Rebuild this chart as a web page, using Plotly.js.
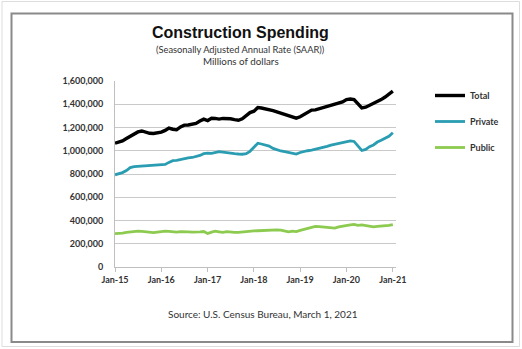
<!DOCTYPE html>
<html>
<head>
<meta charset="utf-8">
<script src="https://cdn.plot.ly/plotly-3.0.1.min.js"></script>
<style>
  html, body { margin: 0; padding: 0; background: #ffffff; }
  #chart { width: 522px; height: 349px; }
</style>
</head>
<body>
<div id="chart"></div>
<script>
// ---- Data (millions of dollars, SAAR), monthly Jan-2015 .. Jan-2021 ----
var startYear = 2015;
var totalSpending = [
  1065, 1072, 1085, 1105, 1125, 1150, 1162, 1170, 1160, 1150, 1148, 1152,
  1160, 1175, 1195, 1185, 1180, 1205, 1220, 1222, 1225, 1235, 1255, 1272,
  1260, 1280, 1278, 1272, 1278, 1280, 1275, 1268, 1262, 1275, 1300, 1328,
  1340, 1371, 1368, 1362, 1358, 1345, 1335, 1325, 1310, 1300, 1290, 1280,
  1292, 1310, 1330, 1350, 1352, 1362, 1365, 1375, 1390, 1395, 1405, 1420,
  1440, 1445, 1440, 1405, 1368, 1375, 1390, 1405, 1418, 1440, 1462, 1485,
  1512
].map(function (v) { return v * 1000; });
var privateSpending = [
  793, 800, 812, 830, 855, 864, 866, 868, 868, 870, 875, 878,
  880, 882, 900, 915, 918, 925, 935, 938, 942, 948, 960, 975,
  980, 978, 985, 992, 988, 982, 978, 975, 972, 970, 975, 995,
  1030, 1065, 1058, 1052, 1040, 1020, 1008, 998, 992, 985, 975, 972,
  985, 995, 1000, 1005, 1012, 1020, 1025, 1038, 1048, 1055, 1065, 1072,
  1080, 1085, 1080, 1040, 1002, 1012, 1035, 1050, 1075, 1090, 1110, 1125,
  1155
].map(function (v) { return v * 1000; });
var publicSpending = [
  287, 288, 292, 297, 302, 306, 308, 306, 302, 298, 296, 300,
  305, 308, 306, 302, 300, 304, 306, 302, 300, 299, 302, 305,
  288, 300, 308, 303, 298, 304, 298, 297, 298, 302, 305, 310,
  310, 312, 314, 318, 320, 318, 320, 318, 308, 302, 308, 305,
  315, 325, 335, 345, 350, 348, 345, 345, 342, 335, 345, 352,
  360, 362, 366, 358, 362, 355, 348, 345, 350, 352, 355, 358,
  365
].map(function (v) { return v * 1000; });

var seriesNames = ["Total", "Private", "Public"];
var tickDates = ["2015-01-01", "2016-01-01", "2017-01-01", "2018-01-01", "2019-01-01", "2020-01-01", "2021-01-01"];
var tickLabels = ["Jan-15", "Jan-16", "Jan-17", "Jan-18", "Jan-19", "Jan-20", "Jan-21"];

// month categories (dates)
var months = [];
for (var i = 0; i < totalSpending.length; i++) {
  var y = startYear + Math.floor(i / 12);
  var m = (i % 12) + 1;
  months.push(y + "-" + (m < 10 ? "0" + m : m) + "-01");
}

// ---- geometry helpers (pixel -> paper) ----
var L = 115, R = 396, T = 81, B = 267, W = 522, H = 349;
function px(x) { return (x - L) / (R - L); }
function py(y) { return (B - y) / (B - T); }

var FONT = "Lato, 'Liberation Sans', Arial, sans-serif";
var TFONT = "'Liberation Sans', Arial, sans-serif";

var traces = [
  { x: months, y: totalSpending, name: seriesNames[0], type: "scatter", mode: "lines",
    line: { color: "#000000", width: 3.4 }, legendgroup: "a" },
  { x: months, y: privateSpending, name: seriesNames[1], type: "scatter", mode: "lines",
    line: { color: "#2a9db2", width: 2.8 }, legendgroup: "b" },
  { x: months, y: publicSpending, name: seriesNames[2], type: "scatter", mode: "lines",
    line: { color: "#8ccb4f", width: 2.8 }, legendgroup: "c" }
];

var layout = {
  width: W, height: H,
  margin: { l: L, r: W - R, t: T, b: H - B, pad: 0 },
  paper_bgcolor: "#ffffff",
  plot_bgcolor: "#ffffff",
  font: { family: FONT, color: "#333333" },
  xaxis: {
    type: "date",
    range: ["2015-01-01", "2021-01-26"],
    tickvals: tickDates,
    ticktext: tickLabels,
    ticks: "outside", ticklen: 4, tickcolor: "#bfbfbf", tickwidth: 1,
    showgrid: false,
    showline: true, linecolor: "#bfbfbf", linewidth: 1,
    tickfont: { family: FONT, size: 9, weight: "bold", color: "#333333" },
    fixedrange: true
  },
  yaxis: {
    range: [0, 1600000],
    dtick: 200000,
    tickformat: ",d",
    showgrid: true, gridcolor: "#c9c9c9", gridwidth: 1,
    showline: true, linecolor: "#bfbfbf", linewidth: 1,
    zeroline: false,
    ticks: "", ticklabelstandoff: 9,
    tickfont: { family: FONT, size: 9, weight: "bold", color: "#333333" },
    fixedrange: true
  },
  showlegend: true,
  legend: {
    x: px(430), y: py(81), xanchor: "left", yanchor: "top",
    font: { family: FONT, size: 9, weight: "bold", color: "#333333" },
    tracegroupgap: 7,
    itemwidth: 30,
    bgcolor: "rgba(0,0,0,0)",
    borderwidth: 0
  },
  annotations: [
    { text: "<b>Construction Spending</b>", xref: "paper", yref: "paper",
      x: px(240.5), y: py(32), xanchor: "center", yanchor: "middle", showarrow: false,
      font: { family: TFONT, size: 16, color: "#111111" } },
    { text: "(Seasonally Adjusted Annual Rate (SAAR))", xref: "paper", yref: "paper",
      x: px(240.5), y: py(50), xanchor: "center", yanchor: "middle", showarrow: false,
      font: { family: FONT, size: 9.3, color: "#333333" } },
    { text: "Millions of dollars", xref: "paper", yref: "paper",
      x: px(240.5), y: py(60.5), xanchor: "center", yanchor: "middle", showarrow: false,
      font: { family: FONT, size: 9.8, color: "#333333" } },
    { text: "Source: U.S. Census Bureau, March 1, 2021", xref: "paper", yref: "paper",
      x: px(262.8), y: py(313.5), xanchor: "center", yanchor: "middle", showarrow: false,
      font: { family: FONT, size: 10, color: "#333333" } }
  ],
  shapes: [
    { type: "rect", xref: "paper", yref: "paper",
      x0: px(2), x1: px(519.5), y0: py(346.5), y1: py(1.5),
      line: { color: "#dddddd", width: 1 }, layer: "below" },
    { type: "rect", xref: "paper", yref: "paper",
      x0: px(11.5), x1: px(512.5), y0: py(342), y1: py(13.5),
      line: { color: "#8a8a8a", width: 2 }, layer: "below" }
  ]
};

Plotly.newPlot("chart", traces, layout, { staticPlot: true, displayModeBar: false });
</script>
</body>
</html>
